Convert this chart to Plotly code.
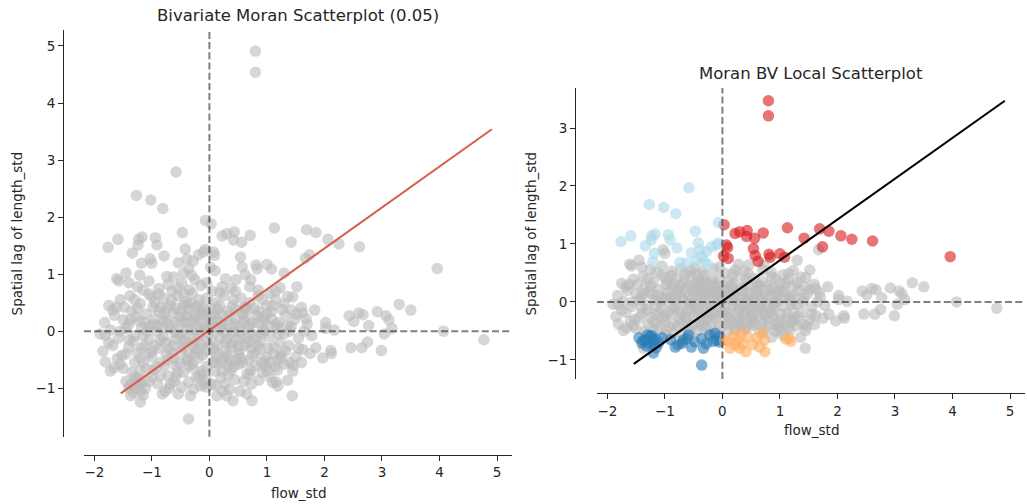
import plotly.graph_objects as go

# ---------------- data ----------------
# non-significant points: x = flow_std, y_bv = lag (left plot), y_loc = lag (right plot)
ns_x = [3.30, 3.50, 2.92, 3.07, 3.12, 3.17, 3.04, 2.99, 2.75, 2.65, 2.46, 2.77, 2.43, 2.51, 2.60, 2.67,
        4.07, 4.77, 1.83, 2.02, 2.02, 2.17, 2.11, 2.12, 1.97, 1.85, 1.75, 1.44, 1.36, -1.81, -1.66,
        -1.81, -1.68, -1.58, 1.67, 1.23, 1.36, 1.43, 0.46, -1.37,
        -1.03, -1.00, -1.45, -1.61, 1.30,
        -1.40, -1.25, -1.05, -0.88, -0.72, -0.48, -0.35, -0.15, 0.05, 0.22, 0.38, 0.70, 0.85, 1.15, 1.52,
        -1.15, -0.55, 0.45,
        -1.75, -1.55, -1.38, -1.20, -1.05, -0.95, -0.80, -0.68, -0.55, -0.42, -0.30, -0.18, -0.05, 0.10,
        0.25, 0.40, 0.55, 0.70, 0.85, 1.00, 1.15, 1.30, 1.45, 1.60, -0.85, -0.25, 0.18, 0.62, 1.05, -1.48,
        -1.82, -1.65, -1.50, -1.35, -1.22, -1.10, -0.98, -0.88, -0.75, -0.62, -0.50, -0.40, -0.28, -0.15,
        -0.05, 0.08, 0.20, 0.32, 0.45, 0.58, 0.70, 0.82, 0.95, 1.08, 1.20, 1.32, 1.48, 1.62, 1.70, -0.70,
        -0.35, 0.15, 0.65, 1.00, -1.40,
        -1.90, -1.72, -1.58, -1.45, -1.30, -1.18, -1.05, -0.92, -0.80, -0.68, -0.55, -0.45, -0.32, -0.20,
        -0.08, 0.05, 0.18, 0.30, 0.42, 0.55, 0.68, 0.80, 0.92, 1.05, 1.18, 1.30, 1.42, 1.55, 1.65, 1.78,
        -0.60, 0.25, 0.88, -1.05,
        -1.85, -1.68, -1.52, -1.40, -1.25, -1.12, -1.00, -0.88, -0.75, -0.62, -0.50, -0.38, -0.25, -0.12,
        0.00, 0.12, 0.25, 0.38, 0.50, 0.62, 0.75, 0.88, 1.00, 1.12, 1.25, 1.38, 1.50, 1.62, -0.30, 0.55,
        1.20, -1.60,
        -1.72, -1.55, -1.35, -1.15, -0.98, -0.85, -0.72, -0.58, -0.45, -0.30, -0.18, -0.05, 0.10, 0.22,
        0.38, 0.52, 0.65, 0.80, 0.92, 1.05, 1.18, 1.30, 1.45, 1.60, -0.40, 0.45, 0.95, -1.00, 0.86,
        -0.95, -0.82, -0.70, -0.58, -0.48, -0.40, -0.35, -0.22, -0.15, -0.10, 0.02, 0.08, 0.15, 0.28,
        0.35, 0.48, 0.60, 0.72, 0.78, 0.90, 1.02, 1.12, -1.15, -1.28, -1.20, -0.78, -0.62, -0.52, -0.28,
        -0.18, 0.00, 0.12, 0.32, 0.42, 0.52, 0.68, 0.85, 0.98, 1.10, 1.22, 1.35, -1.55, -1.40, -1.62,
        -0.88, -0.65, -0.45, -0.05, 0.28, 0.72, -1.30, -1.10, -0.85, 1.05, 1.55, 1.68, 1.40, -1.75,
        -1.50, -0.38, 0.18, -0.78, -1.00, 0.40, 0.92]
ns_y_bv = [0.47, 0.37, 0.34, 0.27, 0.20, 0.05, -0.05, -0.34, -0.19, -0.29, -0.29, 0.10, 0.27, 0.17, 0.32, 0.29,
           0.00, -0.15, 0.37, 0.15, 0.05, 0.02, -0.34, -0.39, -0.47, -0.29, -0.39, -1.13, -0.86, -0.54, -0.64,
           -0.07, 0.37, 0.88, 1.28, 0.76, 0.61, 0.37, 0.90, -1.13,
           1.27, 1.19, 1.02, 0.92, 1.02,
           0.85, 0.78, 0.88, 0.75, 0.82, 0.84, 0.72, 0.80, 0.70, 0.78, 0.75, 0.78, 0.72, 0.70, 0.78,
           0.72, 0.76, 0.70,
           0.45, 0.55, 0.62, 0.48, 0.65, 0.50, 0.58, 0.45, 0.62, 0.52, 0.66, 0.45, 0.58, 0.50,
           0.62, 0.45, 0.58, 0.50, 0.62, 0.45, 0.55, 0.48, 0.60, 0.42, 0.42, 0.42, 0.68, 0.42, 0.66, 0.42,
           0.15, 0.28, 0.20, 0.35, 0.18, 0.30, 0.12, 0.35, 0.22, 0.32, 0.15, 0.28, 0.18, 0.35,
           0.22, 0.30, 0.15, 0.35, 0.22, 0.30, 0.12, 0.28, 0.18, 0.35, 0.15, 0.28, 0.20, 0.32, 0.12, 0.12,
           0.38, 0.38, 0.38, 0.30, 0.12,
           -0.05, 0.02, -0.12, 0.05, -0.08, 0.06, -0.15, 0.00, -0.10, 0.05, -0.05, -0.18, 0.02, -0.10,
           0.06, -0.08, 0.04, -0.15, 0.00, -0.08, 0.06, -0.12, 0.02, -0.10, 0.05, -0.05, 0.08, -0.12, 0.00, -0.08,
           -0.15, -0.02, -0.18, 0.08,
           -0.35, -0.25, -0.42, -0.28, -0.38, -0.25, -0.45, -0.30, -0.40, -0.25, -0.35, -0.48, -0.30, -0.42,
           -0.25, -0.38, -0.48, -0.28, -0.40, -0.25, -0.42, -0.32, -0.45, -0.28, -0.40, -0.25, -0.45, -0.32, -0.22, -0.48,
           -0.50, -0.48,
           -0.70, -0.58, -0.72, -0.55, -0.68, -0.55, -0.78, -0.62, -0.72, -0.58, -0.78, -0.62, -0.70, -0.55,
           -0.68, -0.58, -0.75, -0.60, -0.72, -0.55, -0.68, -0.58, -0.70, -0.55, -0.52, -0.52, -0.52, -0.80, -0.86,
           0.22, 0.05, -0.30, 0.40, -0.05, 0.15, -0.40, 0.28, -0.22, 0.12, 0.40, -0.30, 0.20, -0.35,
           0.12, -0.15, 0.18, -0.30, 0.40, -0.05, 0.10, -0.40, -0.08, 0.25, -0.48, -0.60, -0.48, 0.25, -0.65,
           0.55, 0.05, -0.55, -0.60, 0.55, 0.08, -0.50, 0.15, -0.62, 0.45, -0.20, 0.10, 0.00, -0.15, 0.42,
           0.65, 0.70, 0.66, 0.85, 0.92, 0.90, 0.55, -0.65, -0.78, -0.80, -0.30, 0.22, -0.55, -0.20,
           -0.65, 0.48, -0.12, 0.30, -0.35, -0.22, 0.55]
ns_y_loc = [0.33, 0.26, 0.24, 0.19, 0.14, 0.04, -0.04, -0.24, -0.13, -0.21, -0.21, 0.07, 0.19, 0.12, 0.23, 0.21,
            0.00, -0.11, 0.26, 0.11, 0.04, 0.01, -0.24, -0.28, -0.33, -0.21, -0.28, -0.80, -0.61, -0.38, -0.45,
            -0.05, 0.26, 0.62, 0.90, 0.54, 0.43, 0.26, 0.64, -0.80,
            0.90, 0.84, 0.72, 0.65, 0.72,
            0.60, 0.55, 0.62, 0.53, 0.58, 0.59, 0.51, 0.57, 0.49, 0.55, 0.53, 0.55, 0.51, 0.49, 0.55,
            0.51, 0.54, 0.49,
            0.32, 0.39, 0.44, 0.34, 0.46, 0.35, 0.41, 0.32, 0.44, 0.37, 0.47, 0.32, 0.41, 0.35,
            0.44, 0.32, 0.41, 0.35, 0.44, 0.32, 0.39, 0.34, 0.42, 0.30, 0.30, 0.30, 0.48, 0.30, 0.47, 0.30,
            0.11, 0.20, 0.14, 0.25, 0.13, 0.21, 0.08, 0.25, 0.16, 0.23, 0.11, 0.20, 0.13, 0.25,
            0.16, 0.21, 0.11, 0.25, 0.16, 0.21, 0.08, 0.20, 0.13, 0.25, 0.11, 0.20, 0.14, 0.23, 0.08, 0.08,
            0.27, 0.27, 0.27, 0.21, 0.08,
            -0.04, 0.01, -0.08, 0.04, -0.06, 0.04, -0.11, 0.00, -0.07, 0.04, -0.04, -0.13, 0.01, -0.07,
            0.04, -0.06, 0.03, -0.11, 0.00, -0.06, 0.04, -0.08, 0.01, -0.07, 0.04, -0.04, 0.06, -0.08, 0.00, -0.06,
            -0.11, -0.01, -0.13, 0.06,
            -0.25, -0.18, -0.30, -0.20, -0.27, -0.18, -0.32, -0.21, -0.28, -0.18, -0.25, -0.34, -0.21, -0.30,
            -0.18, -0.27, -0.34, -0.20, -0.28, -0.18, -0.30, -0.23, -0.32, -0.20, -0.28, -0.18, -0.32, -0.23, -0.16, -0.34,
            -0.35, -0.34,
            -0.49, -0.41, -0.51, -0.39, -0.48, -0.39, -0.55, -0.44, -0.51, -0.41, -0.55, -0.44, -0.49, -0.39,
            -0.48, -0.41, -0.53, -0.42, -0.51, -0.39, -0.48, -0.41, -0.49, -0.39, -0.37, -0.37, -0.37, -0.57, -0.61,
            0.16, 0.04, -0.21, 0.28, -0.04, 0.11, -0.28, 0.20, -0.16, 0.08, 0.28, -0.21, 0.14, -0.25,
            0.08, -0.11, 0.13, -0.21, 0.28, -0.04, 0.07, -0.28, -0.06, 0.18, -0.34, -0.42, -0.34, 0.18, -0.46,
            0.39, 0.04, -0.39, -0.42, 0.39, 0.06, -0.35, 0.11, -0.44, 0.32, -0.14, 0.07, 0.00, -0.11, 0.30,
            0.46, 0.49, 0.47, 0.60, 0.65, 0.64, 0.39, -0.46, -0.55, -0.57, -0.21, 0.16, -0.39, -0.14,
            -0.46, 0.34, -0.08, 0.21, -0.25, -0.16, 0.39]

# extra non-significant points in the dense core of the cloud
core_x = [-1.30, -1.18, -1.08, -0.98, -0.92, -0.85, -0.80, -0.72, -0.66, -0.60, -0.55, -0.50, -0.45, -0.40,
          -0.36, -0.32, -0.28, -0.24, -0.20, -0.16, -0.12, -0.10, -0.06, -0.02, 0.02, 0.06, 0.10, 0.14,
          0.18, 0.22, 0.26, 0.30, 0.34, 0.38, 0.42, 0.46, 0.50, 0.54, 0.58, 0.62, 0.66, 0.72, 0.76, 0.80,
          0.86, 0.90, 0.96, 1.02, 1.08, 1.14, 1.20, 1.26, 1.32, 1.40, 1.46, 1.52, -1.45, -1.38, -1.32,
          -1.25, -1.20, -1.12, -1.05, -1.00, -0.94, -0.90, -0.76, -0.74, -0.64, -0.58, -0.52, -0.46, -0.42,
          -0.38, -0.26, -0.22, -0.18, -0.12, -0.04, 0.04, 0.12, 0.20, 0.28, 0.36, 0.44, 0.52, 0.60, 0.68,
          0.74, 0.84, 0.94, 1.00, 1.16, 1.24]
core_y_bv = [-0.55, -0.30, 0.00, 0.42, -0.62, -0.15, 0.18, -0.50, 0.55, -0.02, -0.72, 0.35, -0.28, 0.05,
             -0.60, 0.50, -0.12, 0.22, -0.48, 0.02, -0.70, 0.40, -0.35, -0.05, 0.25, -0.55, 0.08, -0.25,
             0.45, -0.70, 0.10, -0.42, 0.28, -0.05, -0.62, 0.38, -0.25, 0.00, -0.55, 0.25, -0.12, -0.68, 0.15, -0.38,
             0.35, -0.55, 0.00, -0.30, 0.22, -0.62, -0.05, 0.38, -0.35, 0.00, -0.60, 0.30, -0.40, 0.20, -0.18,
             0.40, -0.70, 0.15, -0.40, 0.60, -0.25, 0.10, -0.20, 0.40, -0.38, 0.15, -0.55, 0.45, -0.15,
             0.25, -0.40, 0.08, -0.30, 0.30, -0.18, 0.15, -0.45, 0.30, -0.20, -0.50, 0.12, -0.35, 0.40, -0.20,
             -0.05, -0.25, 0.25, -0.70, 0.12, -0.45]
core_y_loc = [-0.39, -0.21, 0.00, 0.30, -0.44, -0.11, 0.13, -0.35, 0.39, -0.01, -0.51, 0.25, -0.20, 0.04,
              -0.42, 0.35, -0.08, 0.16, -0.34, 0.01, -0.49, 0.28, -0.25, -0.04, 0.18, -0.39, 0.06, -0.18,
              0.32, -0.49, 0.07, -0.30, 0.20, -0.04, -0.44, 0.27, -0.18, 0.00, -0.39, 0.18, -0.08, -0.48, 0.11, -0.27,
              0.25, -0.39, 0.00, -0.21, 0.16, -0.44, -0.04, 0.27, -0.25, 0.00, -0.42, 0.21, -0.28, 0.14, -0.13,
              0.28, -0.49, 0.11, -0.28, 0.42, -0.18, 0.07, -0.14, 0.28, -0.27, 0.11, -0.39, 0.32, -0.11,
              0.18, -0.28, 0.06, -0.21, 0.21, -0.13, 0.11, -0.32, 0.21, -0.14, -0.35, 0.08, -0.25, 0.28, -0.14,
              -0.04, -0.18, 0.18, -0.49, 0.08, -0.32]

# High-High
hh_x = [0.80, 0.80, 0.03, 0.22, 0.30, 0.43, 0.42, 0.56, 0.71, 1.13, 1.42, 1.69, 1.85, 2.06, 2.25, 2.61,
        3.96, 0.07, 0.09, 0.02, 0.10, 0.54, 0.57, 0.62, 0.81, 0.83, 1.00, 1.08, 1.74]
hh_y_bv = [4.91, 4.54, 1.88, 1.67, 1.71, 1.74, 1.60, 1.56, 1.68, 1.81, 1.56, 1.78, 1.73, 1.61, 1.53, 1.48,
           1.10, 1.39, 1.33, 1.12, 1.06, 1.30, 1.13, 0.99, 1.16, 1.09, 1.17, 1.09, 1.34]
hh_y_loc = [3.47, 3.21, 1.33, 1.18, 1.21, 1.23, 1.13, 1.10, 1.19, 1.28, 1.10, 1.26, 1.22, 1.14, 1.08, 1.05,
            0.78, 0.98, 0.94, 0.79, 0.75, 0.92, 0.80, 0.70, 0.82, 0.77, 0.83, 0.77, 0.95]
# Low-High
lh_x = [-0.58, -1.27, -1.02, -0.81, -0.07, -0.47, -1.59, -1.76, -1.23, -1.17, -0.94, -0.91, -1.24, -1.34,
        -1.18, -0.79, -0.42, -0.39, -0.28, -0.19, -0.10, -0.54, -0.36, -0.74, -0.62, -0.45, -0.31, -1.21,
        -0.25, -0.07]
lh_y_bv = [2.79, 2.38, 2.30, 2.15, 1.94, 1.73, 1.61, 1.47, 1.61, 1.65, 1.64, 1.51, 1.51, 1.37, 1.19, 1.32,
           1.44, 1.27, 1.23, 1.34, 1.39, 1.20, 1.10, 0.96, 0.95, 1.02, 0.98, 0.98, 0.90, 1.43]
lh_y_loc = [1.97, 1.68, 1.63, 1.52, 1.37, 1.22, 1.14, 1.04, 1.14, 1.17, 1.16, 1.07, 1.07, 0.97, 0.84, 0.93,
            1.02, 0.90, 0.87, 0.95, 0.98, 0.85, 0.78, 0.68, 0.67, 0.72, 0.69, 0.69, 0.64, 1.01]
# Low-Low
ll_x = [-1.34, -1.26, -1.17, -1.28, -1.11, -1.40, -1.20, -1.20, -0.82, -0.77, -0.62, -0.59, -0.54, -0.68,
        -0.36, -0.33, -0.22, -0.16, -0.10, -0.13, -0.36, -1.23, -1.30, -1.45, -0.05,
        -1.38, -1.22, -1.15, -1.32, -0.70, -0.48, -0.28, -0.05, -0.90, -1.05]
ll_y_bv = [-0.93, -0.85, -0.90, -1.00, -1.00, -1.00, -1.05, -1.24, -1.10, -1.05, -0.89, -0.81, -1.10, -0.93,
           -0.89, -1.13, -0.81, -0.96, -0.93, -0.76, -1.54, -0.82, -0.81, -0.88, -0.85,
           -0.95, -0.92, -1.12, -1.08, -1.00, -0.98, -1.02, -0.98, -0.92, -0.88]
ll_y_loc = [-0.66, -0.60, -0.64, -0.71, -0.71, -0.71, -0.74, -0.88, -0.78, -0.74, -0.63, -0.57, -0.78, -0.66,
            -0.63, -0.80, -0.57, -0.68, -0.66, -0.54, -1.09, -0.58, -0.57, -0.62, -0.60,
            -0.67, -0.65, -0.79, -0.76, -0.71, -0.69, -0.72, -0.69, -0.65, -0.62]
# High-Low
hl_x = [0.04, 0.13, 0.27, 0.33, 0.44, 0.30, 0.41, 0.53, 0.70, 0.73, 0.74, 1.16, 1.19, 0.20,
        0.10, 0.35, 0.60, 0.65, 0.22, 1.10]
hl_y_bv = [-0.93, -1.13, -0.93, -0.76, -0.85, -1.13, -1.22, -1.05, -0.76, -0.93, -1.22, -0.89, -0.96, -0.82,
           -0.95, -1.02, -0.88, -1.10, -1.05, -0.90]
hl_y_loc = [-0.66, -0.80, -0.66, -0.54, -0.60, -0.80, -0.86, -0.74, -0.54, -0.66, -0.86, -0.63, -0.68, -0.58,
            -0.67, -0.72, -0.62, -0.78, -0.74, -0.64]

# fitted lines (endpoints)
fit_x = [-1.54, 4.91]
fit_y_bv = [-1.09, 3.54]
fit_y_loc = [-1.07, 3.47]

x_ticks = [-2, -1, 0, 1, 2, 3, 4, 5]
y_ticks_bv = [-1, 0, 1, 2, 3, 4, 5]
y_ticks_loc = [-1, 0, 1, 2, 3]

titles = ["Bivariate Moran Scatterplot (0.05)", "Moran BV Local Scatterplot"]
x_label = "flow_std"
y_label = "Spatial lag of length_std"

# ---------------- styling ----------------
W, H = 1027, 504
FONT = "DejaVu Sans"
TXT = "#262626"
BASE = "#bababa"
COL = {"HH": "#d7191c", "LH": "#abd9e9", "LL": "#2c7bb6", "HL": "#fdae61"}
MS = 11.5


def lab(v):
    return ("\u2212" + str(abs(v))) if v < 0 else str(v)


def px_x(p):
    return p / W


def px_y(p):
    return 1 - p / H


fig = go.Figure()

gray_x = ns_x + core_x
gray_y_bv = ns_y_bv + core_y_bv
gray_y_loc = ns_y_loc + core_y_loc
all_x = gray_x + hh_x + lh_x + ll_x + hl_x
all_y_bv = gray_y_bv + hh_y_bv + lh_y_bv + ll_y_bv + hl_y_bv

# left panel
fig.add_trace(go.Scatter(x=all_x, y=all_y_bv, mode="markers", xaxis="x", yaxis="y",
                         marker=dict(color=BASE, size=MS, opacity=0.6, line=dict(width=0)),
                         hoverinfo="skip"))
fig.add_trace(go.Scatter(x=fit_x, y=fit_y_bv, mode="lines", xaxis="x", yaxis="y",
                         line=dict(color="#d6604d", width=2.1), hoverinfo="skip"))

# right panel
fig.add_trace(go.Scatter(x=gray_x, y=gray_y_loc, mode="markers", xaxis="x2", yaxis="y2",
                         marker=dict(color=BASE, size=MS, opacity=0.6, line=dict(width=0)),
                         hoverinfo="skip"))
for key, xs, ys in [("HH", hh_x, hh_y_loc), ("LH", lh_x, lh_y_loc),
                    ("LL", ll_x, ll_y_loc), ("HL", hl_x, hl_y_loc)]:
    fig.add_trace(go.Scatter(x=xs, y=ys, mode="markers", xaxis="x2", yaxis="y2",
                             marker=dict(color=COL[key], size=MS, opacity=0.6, line=dict(width=0)),
                             hoverinfo="skip"))
fig.add_trace(go.Scatter(x=fit_x, y=fit_y_loc, mode="lines", xaxis="x2", yaxis="y2",
                         line=dict(color="black", width=2.1), hoverinfo="skip"))

# reference dashed lines at 0
for xa, ya in [("x", "y"), ("x2", "y2")]:
    fig.add_shape(type="line", xref=xa, yref=ya + " domain", x0=0, x1=0, y0=0, y1=1,
                  line=dict(color="rgba(0,0,0,0.5)", width=2, dash="7px,3.2px"), layer="above")
    fig.add_shape(type="line", xref=xa + " domain", yref=ya, x0=0, x1=1, y0=0, y1=0,
                  line=dict(color="rgba(0,0,0,0.5)", width=2, dash="7px,3.2px"), layer="above")

axis_common = dict(showgrid=False, zeroline=False, showline=True, linecolor=TXT, linewidth=1,
                   ticks="outside", ticklen=5, tickwidth=1, tickcolor=TXT,
                   tickfont=dict(family=FONT, size=13.5, color=TXT), automargin=False)

fig.update_layout(
    width=W, height=H, margin=dict(l=0, r=0, t=0, b=0),
    paper_bgcolor="white", plot_bgcolor="white", showlegend=False,
    font=dict(family=FONT, color=TXT),
    xaxis=dict(domain=[px_x(84), px_x(512)], range=[-2.18, 5.26], anchor="free", position=px_y(455),
               tickvals=x_ticks, ticktext=[lab(v) for v in x_ticks], **axis_common),
    yaxis=dict(domain=[px_y(436.7), px_y(30)], range=[-1.85, 5.28], anchor="free", position=px_x(63),
               tickvals=y_ticks_bv, ticktext=[lab(v) for v in y_ticks_bv], **axis_common),
    xaxis2=dict(domain=[px_x(597), px_x(1025)], range=[-2.18, 5.26], anchor="free", position=px_y(393.3),
                tickvals=x_ticks, ticktext=[lab(v) for v in x_ticks], **axis_common),
    yaxis2=dict(domain=[px_y(379), px_y(88)], range=[-1.33, 3.69], anchor="free", position=px_x(575),
                tickvals=y_ticks_loc, ticktext=[lab(v) for v in y_ticks_loc], **axis_common),
)

ann = [
    dict(text=titles[0], x=px_x(298), y=px_y(15), font=dict(size=16.5)),
    dict(text=titles[1], x=px_x(811), y=px_y(73), font=dict(size=16.5)),
    dict(text=x_label, x=px_x(298), y=px_y(493), font=dict(size=13.5)),
    dict(text=x_label, x=px_x(811), y=px_y(430), font=dict(size=13.5)),
    dict(text=y_label, x=px_x(17), y=px_y(233.4), font=dict(size=13.5), textangle=-90),
    dict(text=y_label, x=px_x(530), y=px_y(233.5), font=dict(size=13.5), textangle=-90),
]
for a in ann:
    fig.add_annotation(xref="paper", yref="paper", showarrow=False, xanchor="center", yanchor="middle",
                       **a)

fig.write_html("out.html")
